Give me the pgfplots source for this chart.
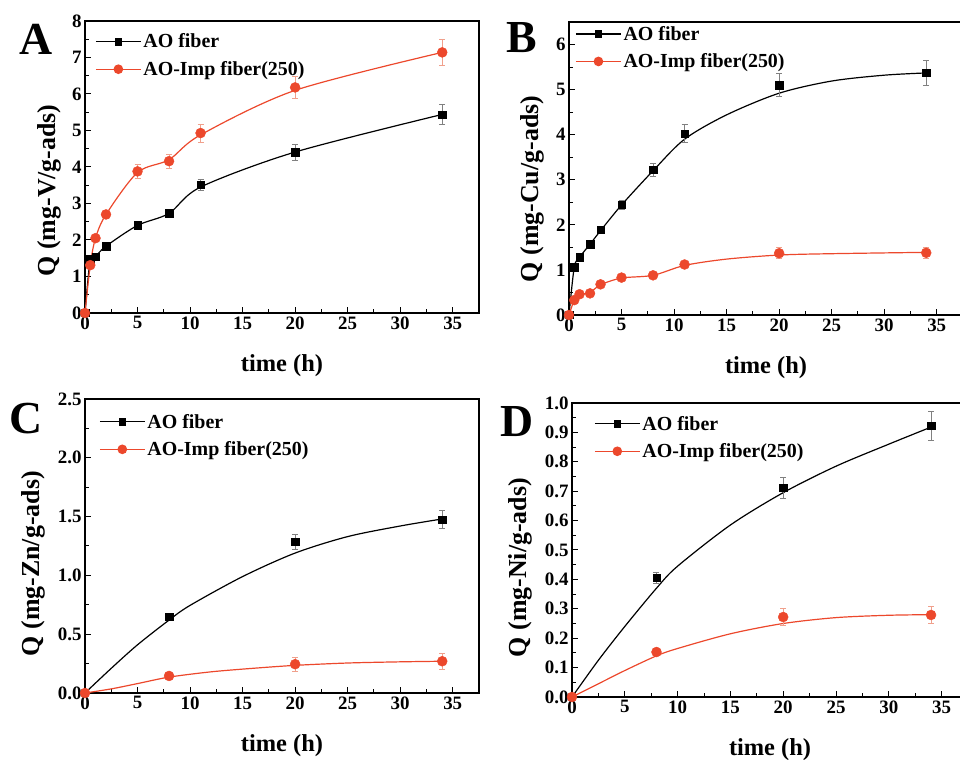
\documentclass[border=0pt]{standalone}
\usepackage{fontspec}
\setmainfont{Liberation Serif}
\usepackage{pgfplots}
\pgfplotsset{compat=1.18}
\definecolor{aored}{RGB}{236,72,44}
\definecolor{aoredbar}{RGB}{240,160,140}

\pgfplotsset{
  panel/.style={
    scale only axis,
    xmin=0, xmax=37.5, ymin=0,
    xtick={0,5,...,35},
    minor x tick num=1, minor y tick num=1,
    tick align=inside, tick pos=left,
    major tick length=6bp, minor tick length=3.5bp,
    tick style={black, line width=1bp},
    axis line style={line width=1.2bp},
    ticklabel style={font=\fontsize{19}{19}\selectfont\bfseries},
    /pgf/number format/assume math mode=true,
    xlabel={time (h)},
    xlabel style={font=\fontsize{24.5}{24.5}\selectfont\bfseries,
      at={(axis description cs:0.5,-0.18)}, anchor=center},
    ylabel style={font=\fontsize{26}{26}\selectfont\bfseries, anchor=center},
    legend style={draw=none, fill=none, anchor=north west,
      font=\fontsize{20}{22}\selectfont\bfseries, row sep=8bp,
      cells={anchor=west}},
    legend image code/.code={\draw[mark repeat=2,mark phase=2,#1]
      plot coordinates {(0bp,0bp)(22.5bp,0bp)(45bp,0bp)};},
  },
  blk/.style={black, line width=1.2bp},
  red/.style={aored, line width=1.2bp},
  blkpts/.style={only marks, mark=square*, mark size=3.7bp,
    mark options={fill=black, draw=black},
    error bars/y dir=both, error bars/y explicit,
    error bars/error bar style={gray, line width=0.7bp},
    error bars/error mark options={gray, line width=0.7bp, rotate=90, mark size=3bp}},
  redpts/.style={only marks, mark=*, mark size=5bp,
    mark options={fill=aored, draw=aored},
    error bars/y dir=both, error bars/y explicit,
    error bars/error bar style={aoredbar, line width=0.7bp},
    error bars/error mark options={aoredbar, line width=0.7bp, rotate=90, mark size=3bp}},
}

\begin{document}
\begin{tikzpicture}
\path[use as bounding box] (0,0) rectangle (960bp,760bp);

% ---- A : V ----
\begin{axis}[panel, at={(85bp,447bp)}, anchor=south west,
  width=394bp, height=292bp, ymax=8, ytick={0,1,...,8},
  ylabel={Q (mg-V/g-ads)},
  ylabel style={at={(axis description cs:-0.09,0.42)}},
  legend style={at={(axis description cs:0.018,0.97)}}]
\addlegendimage{blk, mark=square*, mark size=3.2bp}
\addlegendentry{AO fiber}
\addlegendimage{red, mark=*, mark size=4.2bp}
\addlegendentry{AO-Imp fiber(250)}
\addplot[blk, smooth, forget plot] coordinates {
 (0,0) (0.5,1.47) (1,1.55) (2,1.83) (5,2.40) (8,2.73) (11,3.45) (20,4.41) (34,5.44)};
\addplot[red, smooth, forget plot] coordinates {
 (0,0) (0.5,1.31) (1,2.05) (2,2.70) (5,3.85) (8,4.20) (11,4.88) (20,6.10) (34,7.14)};
\addplot[forget plot, blkpts] coordinates {
 (0,0) +- (0,0) (0.5,1.47) +- (0,0.05) (1,1.55) +- (0,0.06) (2,1.83) +- (0,0.07)
 (5,2.40) +- (0,0.08) (8,2.73) +- (0,0.12) (11,3.52) +- (0,0.15)
 (20,4.41) +- (0,0.22) (34,5.44) +- (0,0.27)};
\addplot[forget plot, redpts] coordinates {
 (0,0) +- (0,0) (0.5,1.31) +- (0,0.08) (1,2.05) +- (0,0.08) (2,2.70) +- (0,0.10)
 (5,3.88) +- (0,0.18) (8,4.16) +- (0,0.20) (11,4.93) +- (0,0.25)
 (20,6.18) +- (0,0.30) (34,7.14) +- (0,0.35)};
\end{axis}

% ---- B : Cu ----
\begin{axis}[panel, at={(569bp,445bp)}, anchor=south west,
  width=394bp, height=293bp, ymax=6.5, ytick={0,1,...,6},
  ylabel={Q (mg-Cu/g-ads)},
  ylabel style={at={(axis description cs:-0.093,0.43)}},
  legend style={at={(axis description cs:0.008,1.0)}}]
\addlegendimage{blk, mark=square*, mark size=3.2bp}
\addlegendentry{AO fiber}
\addlegendimage{red, mark=*, mark size=4.2bp}
\addlegendentry{AO-Imp fiber(250)}
\addplot[blk, smooth, forget plot] coordinates {
 (0,0) (0.5,1.06) (1,1.28) (2,1.57) (3,1.87) (5,2.44) (8,3.20) (11,3.90)
 (15,4.44) (20,4.92) (25,5.19) (30,5.32) (34,5.37)};
\addplot[red, smooth, forget plot] coordinates {
 (0,0) (0.5,0.33) (1,0.45) (2,0.50) (3,0.67) (5,0.82) (8,0.88) (11,1.10)
 (15,1.24) (20,1.33) (25,1.36) (34,1.39)};
\addplot[forget plot, blkpts] coordinates {
 (0,0) +- (0,0) (0.5,1.06) +- (0,0.05) (1,1.28) +- (0,0.05) (2,1.57) +- (0,0.06)
 (3,1.89) +- (0,0.06) (5,2.45) +- (0,0.10) (8,3.22) +- (0,0.15)
 (11,4.02) +- (0,0.20) (20,5.10) +- (0,0.25) (34,5.37) +- (0,0.27)};
\addplot[forget plot, redpts] coordinates {
 (0,0) +- (0,0) (0.5,0.33) +- (0,0.04) (1,0.46) +- (0,0.04) (2,0.48) +- (0,0.05)
 (3,0.68) +- (0,0.05) (5,0.83) +- (0,0.05) (8,0.88) +- (0,0.05)
 (11,1.12) +- (0,0.06) (20,1.37) +- (0,0.12) (34,1.38) +- (0,0.12)};
\end{axis}

% ---- C : Zn ----
\begin{axis}[panel, at={(85bp,67bp)}, anchor=south west,
  width=394bp, height=294bp, ymax=2.5, ytick={0,0.5,...,2.5},
  yticklabel style={/pgf/number format/.cd, fixed, fixed zerofill, precision=1},
  ylabel={Q (mg-Zn/g-ads)},
  ylabel style={at={(axis description cs:-0.13,0.44)}},
  legend style={at={(axis description cs:0.028,0.963)}}]
\addlegendimage{blk, mark=square*, mark size=3.2bp}
\addlegendentry{AO fiber}
\addlegendimage{red, mark=*, mark size=4.2bp}
\addlegendentry{AO-Imp fiber(250)}
\addplot[blk, smooth, forget plot] coordinates {
 (0,0) (2.5,0.21) (5,0.41) (8,0.62) (10,0.745) (15,0.99) (20,1.19) (25,1.33) (30,1.42) (34,1.48)};
\addplot[red, smooth, forget plot] coordinates {
 (0,0) (2.5,0.035) (5,0.08) (8,0.135) (12,0.18) (16,0.21) (20,0.235) (25,0.255) (30,0.265) (34,0.27)};
\addplot[forget plot, blkpts] coordinates {
 (8,0.65) +- (0,0.03) (20,1.285) +- (0,0.06) (34,1.475) +- (0,0.075)};
\addplot[forget plot, redpts] coordinates {
 (0,0) +- (0,0) (8,0.145) +- (0,0.02) (20,0.245) +- (0,0.06) (34,0.27) +- (0,0.07)};
\end{axis}

% ---- D : Ni ----
\begin{axis}[panel, at={(572bp,63bp)}, anchor=south west,
  width=396bp, height=294bp, ymax=1.0, ytick={0,0.1,...,1.0},
  yticklabel style={/pgf/number format/.cd, fixed, fixed zerofill, precision=1},
  ylabel={Q (mg-Ni/g-ads)},
  ylabel style={at={(axis description cs:-0.13,0.44)}},
  legend style={at={(axis description cs:0.048,0.97)}}]
\addlegendimage{blk, mark=square*, mark size=3.2bp}
\addlegendentry{AO fiber}
\addlegendimage{red, mark=*, mark size=4.2bp}
\addlegendentry{AO-Imp fiber(250)}
\addplot[blk, smooth, forget plot] coordinates {
 (0,0) (2.5,0.125) (5,0.24) (8,0.37) (10,0.445) (15,0.585) (20,0.695) (25,0.785) (30,0.86) (34,0.918)};
\addplot[red, smooth, forget plot] coordinates {
 (0,0) (2.5,0.045) (5,0.09) (8,0.14) (10,0.165) (15,0.215) (20,0.25) (25,0.27) (30,0.278) (34,0.28)};
\addplot[forget plot, blkpts] coordinates {
 (8,0.405) +- (0,0.018) (20,0.712) +- (0,0.035) (34,0.922) +- (0,0.048)};
\addplot[forget plot, redpts] coordinates {
 (0,0) +- (0,0) (8,0.153) +- (0,0.012) (20,0.272) +- (0,0.028) (34,0.279) +- (0,0.03)};
\end{axis}

% panel letters
\node[font=\fontsize{46}{46}\selectfont\bfseries] at (36bp,721bp) {A};
\node[font=\fontsize{46}{46}\selectfont\bfseries] at (522bp,722bp) {B};
\node[font=\fontsize{46}{46}\selectfont\bfseries] at (26bp,341bp) {C};
\node[font=\fontsize{46}{46}\selectfont\bfseries] at (517bp,338bp) {D};
\end{tikzpicture}
\end{document}
